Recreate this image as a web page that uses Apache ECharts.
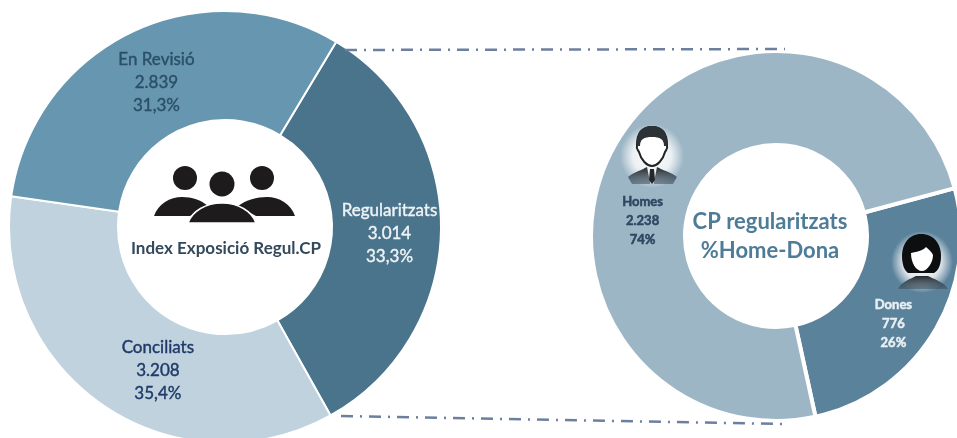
<!DOCTYPE html>
<html>
<head>
<meta charset="utf-8">
<style>html,body{margin:0;padding:0;background:#fff}#c{width:957px;height:438px}</style>
<script src="https://cdn.jsdelivr.net/npm/echarts@6/dist/echarts.min.js"></script>
</head>
<body>
<div id="c"></div>
<script>
const statusNames = ['Regularitzats', 'Conciliats', 'En Revisió'];
const statusValues = [3014, 3208, 2839];
const statusCounts = ['3.014', '3.208', '2.839'];
const statusPercents = ['33,3%', '35,4%', '31,3%'];
const genderNames = ['Dones', 'Homes'];
const genderValues = [776, 2238];
const genderCounts = ['776', '2.238'];
const genderPercents = ['26%', '74%'];

const FONT = 'Lato, "Open Sans", sans-serif';
const statusColors = ['#4a748c', '#bfd2de', '#6797b0'];
const statusText = ['#eef3f6', '#1f3a68', '#2c4f68'];
const statusOffset = [[0, 4], [26, 8], [2, 4]];
const genderColors = ['#5b829b', '#9db6c6'];
const genderText = ['#e9eff3', '#2f4660'];
const genderOffset = [[-3, 14], [-13, 58]];

function item(names, values, counts, pcts, colors, text, offsets, i) {
  return {
    name: names[i], value: values[i],
    itemStyle: { color: colors[i] },
    label: { color: text[i], textBorderColor: text[i], offset: offsets[i], formatter: names[i] + '\n' + counts[i] + '\n' + pcts[i] }
  };
}
let shapeId = 0;
function Path(d, style, z) {
  const name = 'iconPath' + (shapeId++);
  echarts.graphic.registerShape(name, echarts.graphic.extendPath(d));
  return { type: name, z: z || 20, silent: true, style };
}
const dash = { stroke: '#6d7f9f', lineWidth: 2.5, lineDash: [12, 7, 2, 7] };
const T = (text, x, y, size, color) => ({
  type: 'text', z: 20, silent: true,
  style: { text, x, y, fill: color, font: 'bold ' + size + 'px ' + FONT, align: 'center', verticalAlign: 'middle' }
});
const C = (cx, cy, r, fill, z) => ({ type: 'circle', z: z || 20, silent: true, shape: { cx, cy, r }, style: { fill } });
const glow = (cx, cy, r) => C(cx, cy, r, {
  type: 'radial', x: .5, y: .5, r: .5,
  colorStops: [{ offset: 0, color: 'rgba(255,255,255,1)' }, { offset: .6, color: 'rgba(255,255,255,.8)' }, { offset: 1, color: 'rgba(255,255,255,0)' }]
}, 15);
const dark = '#1d1b1c';
const fade = { type: 'linear', x: 0, y: 0, x2: 0, y2: 1, colorStops: [{ offset: 0, color: '#23282c' }, { offset: 1, color: 'rgba(60,80,95,.55)' }] };

const graphic = [
  { type: 'line', z: 5, silent: true, shape: { x1: 345, y1: 50, x2: 785, y2: 49 }, style: dash },
  { type: 'line', z: 5, silent: true, shape: { x1: 341, y1: 416, x2: 783, y2: 424 }, style: dash },
  T('Index Exposició Regul.CP', 226, 249, 17, '#33495c'),
  C(185, 178, 12, dark), C(222, 184, 12.5, dark), C(262, 178, 12, dark),
  Path('M154 216 C158 204 170 197 182 197 C192 197 201 200 208 206 L190 216 Z', { fill: dark }),
  Path('M295 216 C291 204 279 197 267 197 C257 197 246 200 238 206 L256 216 Z', { fill: dark }),
  Path('M188 223 C192 211 206 203 222 203 C238 203 252 211 256 223 Z', { fill: dark, stroke: '#fff', lineWidth: 1.5 }, 21),

  T('CP regularitzats', 770, 222, 22, '#4e7c97'),
  T('%Home-Dona', 770, 251, 22, '#4e7c97'),

  glow(652, 156, 32),
  Path('M652 127 C663 127 667 135 667 145 C668 149 666 150 665 152 C663 160 657 166 652 166 C647 166 641 160 639 152 C638 150 636 149 637 145 C637 135 641 127 652 127 Z', { fill: '#fff', stroke: '#1f2326', lineWidth: 2 }),
  Path('M652 126 C663 126 668 134 667 146 L664 146 C664 139 660 137 652 137 C644 137 640 139 640 146 L637 146 C636 134 641 126 652 126 Z', { fill: '#2c3236' }, 21),
  Path('M628 177 C634 172 642 170 647 167 L650 182 L650 184 L632 184 Z M677 177 C671 172 662 170 657 167 L654 182 L654 184 L673 184 Z', { fill: fade }),
  Path('M650 169 L654 169 L655 180 L652 184 L649 180 Z', { fill: '#23282c' }, 21),

  glow(922, 262, 31),
  Path('M921 234 C934 234 941 244 941 256 C941 264 939 270 934 273 L908 273 C904 270 902 264 902 256 C902 244 909 234 921 234 Z', { fill: '#0d0e10' }),
  Path('M911 253 C917 252 924 250 926 247 C929 250 932 252 933 255 C933 263 927 271 922 271 C916 271 911 263 911 253 Z', { fill: '#fff' }, 21),
  Path('M898 289 C902 281 911 279 916 276 L928 276 C933 279 943 281 948 289 Z', { fill: fade })
];

const base = {
  type: 'pie', silent: true, animation: false, clockwise: true,
  labelLine: { show: false }, emphasis: { disabled: true }
};
const option = {
  animation: false,
  graphic,
  series: [
    Object.assign({}, base, {
      center: [225, 227], radius: [107, 216], startAngle: 59,
      itemStyle: { borderColor: '#fff', borderWidth: 2 },
      label: { show: true, position: 'inside', fontFamily: FONT, fontSize: 17, lineHeight: 23, align: 'center', textBorderWidth: 0.4 },
      data: statusNames.map((_, i) => item(statusNames, statusValues, statusCounts, statusPercents, statusColors, statusText, statusOffset, i))
    }),
    Object.assign({}, base, {
      center: [776, 236], radius: [91, 185], startAngle: 15,
      itemStyle: { borderColor: '#fff', borderWidth: 4 },
      label: { show: true, position: 'inside', fontFamily: FONT, fontSize: 13, fontWeight: 'bold', lineHeight: 19, align: 'center', textBorderWidth: 0.5 },
      data: genderNames.map((_, i) => item(genderNames, genderValues, genderCounts, genderPercents, genderColors, genderText, genderOffset, i))
    })
  ]
};
echarts.init(document.getElementById('c'), null, { renderer: 'canvas' }).setOption(option);
</script>
</body>
</html>
